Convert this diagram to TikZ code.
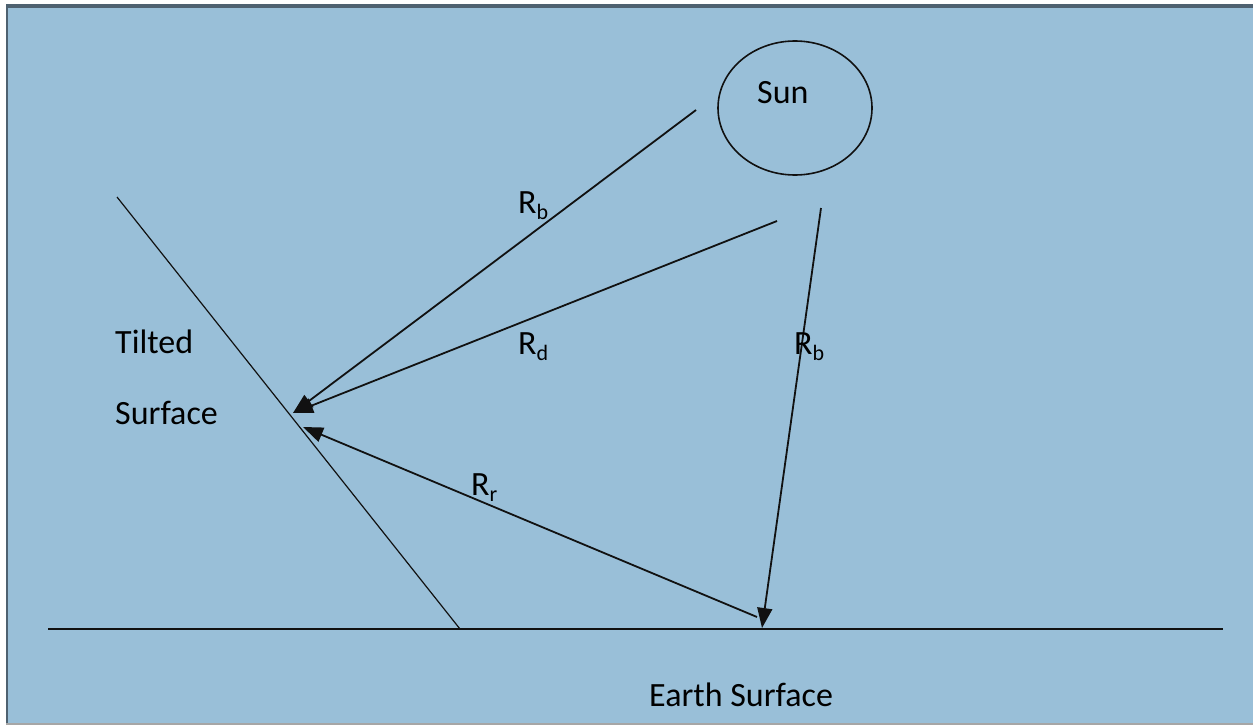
\documentclass[tikz,border=0pt]{standalone}
\usepackage{fontspec}
\setmainfont{Carlito}
\usetikzlibrary{arrows.meta,shapes.geometric}
\definecolor{bg}{HTML}{99BFD8}
\definecolor{bar}{HTML}{4E6170}
\definecolor{ln}{HTML}{111111}
\newcommand{\lbl}[2]{R{\fontsize{22}{22}\selectfont\raisebox{-6pt}{#2}}}
\tikzset{
  ray/.style={draw=ln, line width=1.8pt, -{Triangle[length=20pt,width=15pt]}},
  plain/.style={draw=ln, line width=1.6pt},
  txt/.style={anchor=base west, inner sep=0pt, font=\fontsize{34}{40}\selectfont, text=black}
}
\begin{document}
\begin{tikzpicture}[x=1pt,y=-1pt]
\useasboundingbox (0,0) rectangle (1253,725);
\fill[white] (0,0) rectangle (1253,725);
\fill[bg] (6,4) rectangle (1253,723);
\fill[bar] (6,4) rectangle (1253,8);
\fill[bar] (6,4) rectangle (8,723);
\fill[gray!70] (6,723) rectangle (1253,725);
% surfaces
\coordinate (g1) at (48,629);
\coordinate (g2) at (1223,629);
\coordinate (t1) at (117,197);
\coordinate (t2) at (460,629);
\draw[plain] (g1) -- (g2);
\draw[plain, line width=1.2pt] (t1) -- (t2);
% sun
\node[draw=ln, line width=1.6pt, ellipse, minimum width=154pt, minimum height=134pt, inner sep=0pt] (sun) at (795,108) {};
\node[txt] (suntxt) at (757,103) {Sun};
% ray endpoints
\coordinate (b1s) at (696,110);
\coordinate (ds) at (777,221);
\coordinate (b2s) at (821,208);
\coordinate (tip1) at (293,413);
\coordinate (tip2) at (303,427);
\coordinate (gtip) at (762,628);
\coordinate (rs) at (757,617);
\draw[ray] (b1s) -- (tip1);
\draw[ray] (ds) -- (tip1);
\draw[ray] (b2s) -- (gtip);
\draw[ray] (rs) -- (tip2);
% labels
\node[txt] (lb1) at (518,213) {\lbl{R}{b}};
\node[txt] (ld) at (518,354) {\lbl{R}{d}};
\node[txt] (lb2) at (794,354) {\lbl{R}{b}};
\node[txt] (lr) at (471,495) {\lbl{R}{r}};
\node[txt] (tilt) at (115,353) {Tilted};
\node[txt] (surf) at (115,424) {Surface};
\node[txt] (earth) at (649,706) {Earth Surface};
\end{tikzpicture}
\end{document}
